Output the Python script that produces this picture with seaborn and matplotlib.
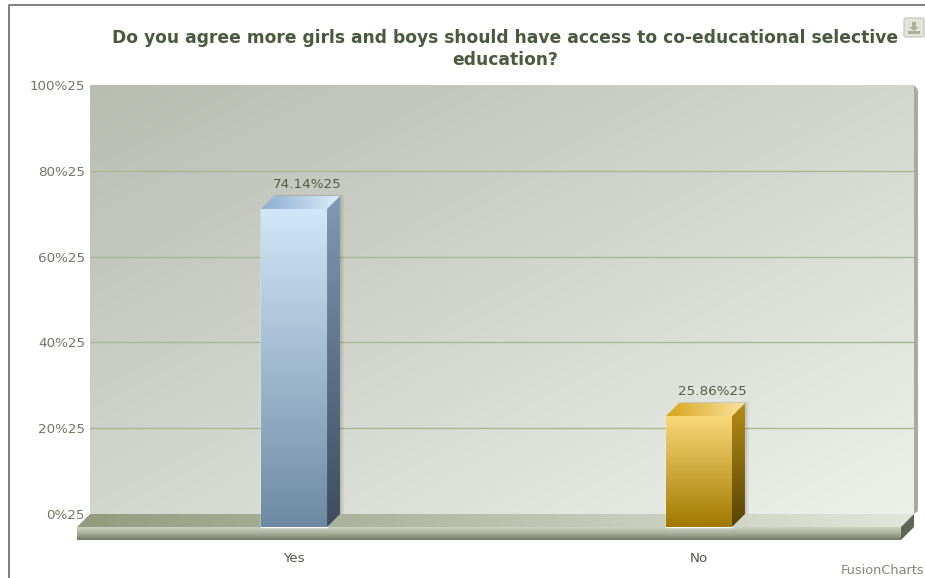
import numpy as np
import pandas as pd
import matplotlib
matplotlib.use("Agg")
import matplotlib.pyplot as plt
import seaborn as sns
from matplotlib.colors import to_rgb
from matplotlib.patches import FancyBboxPatch, Polygon
from matplotlib.transforms import Affine2D, IdentityTransform, ScaledTranslation

# Survey results
answers = ["Yes", "No"]
shares = [74.14, 25.86]
value_labels = ["74.14%25", "25.86%25"]
percent_ticks = [0, 20, 40, 60, 80, 100]
percent_labels = ["0%25", "20%25", "40%25", "60%25", "80%25", "100%25"]
chart_title = ("Do you agree more girls and boys should have access to "
               "co-educational selective\neducation?")

# Colour ramps of the extruded columns: front (top, bottom), side (top, bottom), cap (left, right)
front_ramps = [("#d0e7f9", "#6e8aa3"), ("#fbd877", "#a17900")]
side_ramps = [("#7f9ab4", "#3d4c5d"), ("#b68c16", "#574306")]
cap_ramps = [("#8cadcf", "#dceefc"), ("#d8a61a", "#fbe39f")]

W, H = 925, 578
DEPTH = 13  # extrusion depth of the 3D look, in pixels

sns.set_theme(style="white")
plt.rcParams["font.family"] = ["DejaVu Sans"]

fig = plt.figure(figsize=(W / 100, H / 100), dpi=100, facecolor="white")
ax = fig.add_axes([90 / W, (H - 514) / H, 824 / W, 429 / H])

df = pd.DataFrame({"answer": answers, "share": shares})
sns.barplot(data=df, x="answer", y="share", hue="answer", hue_order=answers,
            palette=[r[0] for r in front_ramps], width=0.163, legend=False,
            saturation=1, ax=ax, zorder=5)

ax.set_xlim(-0.536, 1.499)
ax.set_ylim(0, 100)
ax.set_autoscale_on(False)
ax.set_xlabel("")
ax.set_ylabel("")
for spine in ax.spines.values():
    spine.set_visible(False)
ax.patch.set_visible(False)


def screen(points):
    """Convert top-down pixel positions to display coordinates."""
    return [(x, H - y) for x, y in points]


def gradient(points, start, end, direction):
    """Fill a display-space polygon with a linear colour ramp."""
    pts = np.array(points)
    left, right = pts[:, 0].min(), pts[:, 0].max()
    bottom, top = pts[:, 1].min(), pts[:, 1].max()
    n = 128
    v, u = np.mgrid[0:1:n * 1j, 0:1:n * 1j]
    t = {"down": v, "right": u, "diagonal": (u + v) / 2}[direction][..., None]
    rgb = np.array(to_rgb(start)) * (1 - t) + np.array(to_rgb(end)) * t
    im = ax.imshow(rgb, extent=(left, right, bottom, top), origin="upper",
                   aspect="auto", interpolation="bilinear",
                   transform=IdentityTransform(), zorder=zorder_now[0])
    im.set_clip_box(fig.bbox)
    im.set_clip_path(Polygon(points, closed=True, transform=IdentityTransform()))
    zorder_now[0] += 0.001


def flat(points, color, alpha=1.0, z=2.0):
    ax.add_patch(Polygon(points, closed=True, facecolor=color, edgecolor="none",
                         alpha=alpha, transform=IdentityTransform(),
                         clip_on=False, zorder=z))


# Back wall and its thin right-hand return
zorder_now = [0.1]
gradient(screen([(90, 85), (914, 85), (914, 514), (90, 514)]),
         "#b8bcb1", "#edf1ea", "diagonal")
flat(screen([(914, 85), (918, 90), (918, 511), (914, 514)]), "#a8ac9e", z=0.5)

# Horizontal grid on the wall
ax.set_yticks(percent_ticks, percent_labels)
ax.yaxis.grid(True, color="#a9b793", linewidth=1)
ax.set_axisbelow(False)
for gl in ax.get_ygridlines():
    gl.set_zorder(1)
ax.get_ygridlines()[0].set_visible(False)
ax.get_ygridlines()[-1].set_visible(False)

# Floor slab
zorder_now[0] = 2.0
gradient(screen([(90, 514), (914, 514), (901, 527), (77, 527)]),
         "#939b7f", "#e1e6db", "right")
gradient(screen([(77, 527), (901, 527), (901, 534), (77, 534)]),
         "#cdd3c1", "#a3aa96", "down")
gradient(screen([(77, 534), (901, 534), (901, 540), (77, 540)]),
         "#a3aa96", "#6f7662", "down")
flat(screen([(901, 527), (914, 514), (914, 527), (901, 540)]), "#5f6654", z=2.5)

# Extruded columns: seaborn's bars are the front faces, pushed forward by the depth
to_front = Affine2D().translate(-DEPTH, -DEPTH)
zorder_now[0] = 5.1
for i, bar in enumerate(ax.patches[:len(answers)]):
    x0, x1 = bar.get_x(), bar.get_x() + bar.get_width()
    h = bar.get_height()
    bar.set_transform(ax.transData + to_front)
    bar.set_clip_on(False)
    (lx, by), (rx, ty) = (ax.transData + to_front).transform([(x0, 0), (x1, h)])

    front = [(lx, by), (rx, by), (rx, ty), (lx, ty)]
    side = [(rx, by), (rx + DEPTH, by + DEPTH), (rx + DEPTH, ty + DEPTH), (rx, ty)]
    cap = [(lx, ty), (rx, ty), (rx + DEPTH, ty + DEPTH), (lx + DEPTH, ty + DEPTH)]

    # Soft drop shadow on the wall
    for spread, a in ((4, 0.07), (2, 0.12)):
        flat([(rx + DEPTH, by + DEPTH), (rx + DEPTH + spread, by + DEPTH),
              (rx + DEPTH + spread, ty + DEPTH + 1), (lx + DEPTH, ty + DEPTH + 1),
              (rx, ty)], "#3c4036", alpha=a, z=4.5)

    gradient(front, *front_ramps[i], "down")
    gradient(side, *side_ramps[i], "down")
    gradient(cap, *cap_ramps[i], "right")

# Value captions above each column
for i, container in enumerate(ax.containers):
    ax.bar_label(container, labels=[value_labels[i]], padding=3.8, fontsize=9.7,
                 color="#525c48", zorder=8)

# Axis text
ax.tick_params(axis="both", length=0)
ax.tick_params(axis="y", pad=3.6, labelsize=9.7, labelcolor="#6f7866")
ax.tick_params(axis="x", pad=27.5, labelsize=9.6, labelcolor="#4f5847")
ax.set_xticks(range(len(answers)), answers)
shift_left = ScaledTranslation(-DEPTH / 100, 0, fig.dpi_scale_trans)
for lab in ax.get_xticklabels():
    lab.set_transform(lab.get_transform() + shift_left)

ax.set_title(chart_title, x=(505 - 90) / 824, pad=14.2, fontsize=12.3,
             fontweight="bold", color="#4a5a3e", linespacing=1.3)

fig.text(924 / W, (H - 570) / H, "FusionCharts", ha="right", va="center",
         fontsize=9.3, color="#7f8776")

# Chart frame along the top and left edges
fig.add_artist(plt.Line2D([9, 9, W], [0, H - 5, H - 5], transform=IdentityTransform(),
                          color="#6a6a6a", linewidth=1.2))

# Export button
fig.add_artist(FancyBboxPatch((904, H - 37), 20, 19, boxstyle="round,pad=0,rounding_size=2",
                              transform=IdentityTransform(), facecolor="#e2e4dc",
                              edgecolor="#c8cbc0", linewidth=1))
fig.add_artist(Polygon(screen([(912, 22), (916, 22), (916, 27), (919, 27), (914, 31), (909, 27), (912, 27)]),
                       closed=True, transform=IdentityTransform(),
                       facecolor="#aab196", edgecolor="none"))
fig.add_artist(Polygon(screen([(908, 31), (920, 31), (920, 34), (908, 34)]),
                       closed=True, transform=IdentityTransform(),
                       facecolor="#aab196", edgecolor="none"))

fig.savefig("out.png", dpi=100, facecolor="white")
